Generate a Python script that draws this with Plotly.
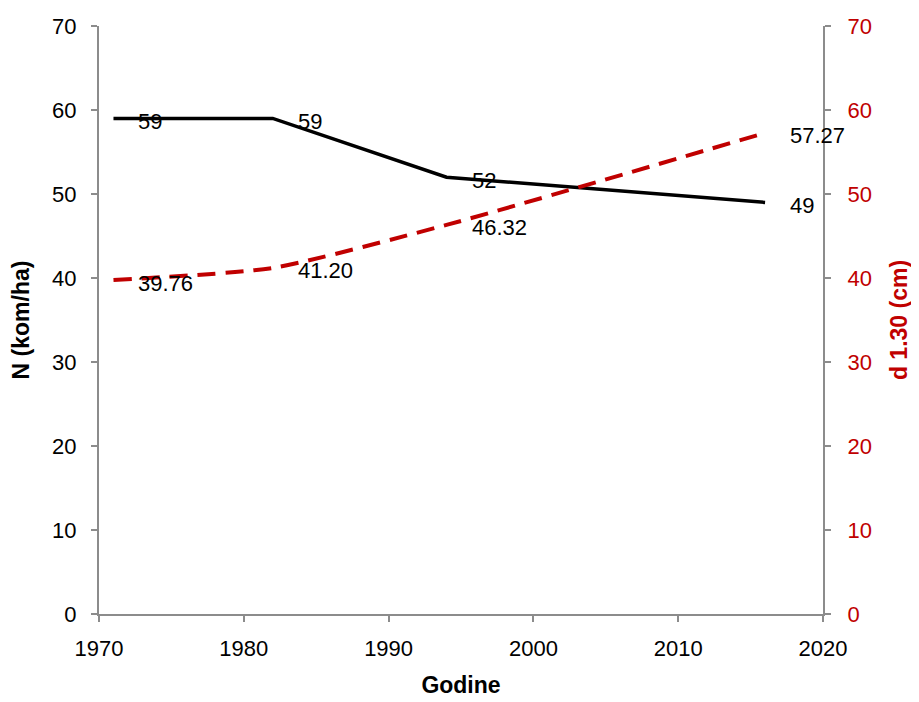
import plotly.graph_objects as go

years = [1971, 1982, 1994, 2016]
n_values = [59, 59, 52, 49]
d_values = [39.76, 41.20, 46.32, 57.27]
n_labels = ["59", "59", "52", "49"]
d_labels = ["39.76", "41.20", "46.32", "57.27"]

FONT = "Liberation Sans, Arial"
RED = "#C00000"
GRAY = "#8C8C8C"
FS = 22
TFS = 23

fig = go.Figure()
fig.add_trace(go.Scatter(x=years, y=n_values, mode="lines",
                         line=dict(color="black", width=3.5), yaxis="y", showlegend=False))
fig.add_trace(go.Scatter(x=years, y=d_values, mode="lines",
                         line=dict(color=RED, width=4, dash="18px,10px", shape="spline", smoothing=0.6),
                         yaxis="y2", showlegend=False))

anns = []
for x, y, t in zip(years, n_values, n_labels):
    anns.append(dict(x=x, y=y, xref="x", yref="y", text=t, showarrow=False,
                     xanchor="left", yanchor="middle", xshift=23, yshift=-3,
                     font=dict(family=FONT, size=FS, color="black")))
for x, y, t in zip(years, d_values, d_labels):
    anns.append(dict(x=x, y=y, xref="x", yref="y2", text=t, showarrow=False,
                     xanchor="left", yanchor="middle", xshift=23, yshift=-3,
                     font=dict(family=FONT, size=FS, color="black")))

axis_common = dict(showgrid=False, zeroline=False, showline=True, linecolor=GRAY, linewidth=2,
                   ticks="outside", tickcolor=GRAY, ticklen=6, tickwidth=2, automargin=False)

fig.update_layout(
    width=919, height=702,
    margin=dict(l=91, r=104, t=18, b=96),
    paper_bgcolor="white", plot_bgcolor="white",
    font=dict(family=FONT, size=FS, color="black"),
    annotations=anns,
    xaxis=dict(range=[1970, 2020], tickvals=[1970, 1980, 1990, 2000, 2010, 2020],
               ticklabelstandoff=8,
               tickfont=dict(family=FONT, size=FS, color="black"),
               title=dict(text="<b>Godine</b>", font=dict(family=FONT, size=TFS, color="black"), standoff=16),
               **axis_common),
    yaxis=dict(range=[0, 70], dtick=10, ticklabelstandoff=10,
               tickfont=dict(family=FONT, size=FS, color="black"),
               title=dict(text="<b>N (kom/ha)</b>", font=dict(family=FONT, size=TFS, color="black"), standoff=20),
               **axis_common),
    yaxis2=dict(range=[0, 70], dtick=10, overlaying="y", side="right", ticklabelstandoff=12,
                tickfont=dict(family=FONT, size=FS, color=RED),
                title=dict(text="<b>d 1.30 (cm)</b>", font=dict(family=FONT, size=TFS, color=RED), standoff=20),
                **axis_common),
)

fig.write_html("out.html")
